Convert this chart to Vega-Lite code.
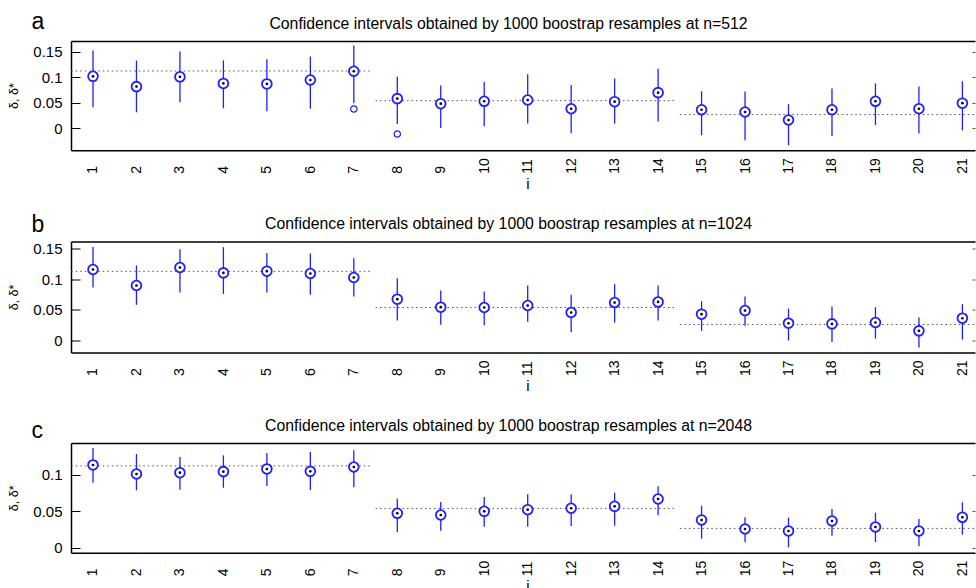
{
  "$schema": "https://vega.github.io/schema/vega-lite/v6.json",
  "background": "white",
  "padding": {"left": 7, "top": 10, "right": 0, "bottom": 0},
  "bounds": "flush",
  "spacing": 90.5,
  "config": {
    "view": {"stroke": null},
    "font": "Liberation Sans",
    "axis": {"grid": false, "labelFont": "Liberation Sans", "titleFont": "Liberation Sans", "labelColor": "black", "titleColor": "black", "tickColor": "black", "domainColor": "black", "titleFontWeight": "normal"}
  },
  "datasets": {
    "ci": [
      {"p": "a", "i": 1, "est": 0.102, "lo": 0.041, "hi": 0.153},
      {"p": "a", "i": 2, "est": 0.0817, "lo": 0.031, "hi": 0.133},
      {"p": "a", "i": 3, "est": 0.101, "lo": 0.0507, "hi": 0.151},
      {"p": "a", "i": 4, "est": 0.088, "lo": 0.039, "hi": 0.1336},
      {"p": "a", "i": 5, "est": 0.087, "lo": 0.033, "hi": 0.1356},
      {"p": "a", "i": 6, "est": 0.0948, "lo": 0.038, "hi": 0.141},
      {"p": "a", "i": 7, "est": 0.112, "lo": 0.049, "hi": 0.1626},
      {"p": "a", "i": 8, "est": 0.058, "lo": 0.008, "hi": 0.101},
      {"p": "a", "i": 9, "est": 0.048, "lo": 0.0, "hi": 0.0837},
      {"p": "a", "i": 10, "est": 0.0527, "lo": 0.0034, "hi": 0.0908},
      {"p": "a", "i": 11, "est": 0.0553, "lo": 0.0087, "hi": 0.106},
      {"p": "a", "i": 12, "est": 0.038, "lo": -0.0105, "hi": 0.085},
      {"p": "a", "i": 13, "est": 0.052, "lo": 0.0087, "hi": 0.098},
      {"p": "a", "i": 14, "est": 0.0698, "lo": 0.013, "hi": 0.117},
      {"p": "a", "i": 15, "est": 0.036, "lo": -0.0144, "hi": 0.0724},
      {"p": "a", "i": 16, "est": 0.0316, "lo": -0.024, "hi": 0.0718},
      {"p": "a", "i": 17, "est": 0.0158, "lo": -0.034, "hi": 0.047},
      {"p": "a", "i": 18, "est": 0.036, "lo": -0.0158, "hi": 0.0778},
      {"p": "a", "i": 19, "est": 0.0527, "lo": 0.006, "hi": 0.088},
      {"p": "a", "i": 20, "est": 0.038, "lo": -0.011, "hi": 0.0817},
      {"p": "a", "i": 21, "est": 0.049, "lo": -0.0045, "hi": 0.092},
      {"p": "b", "i": 1, "est": 0.1155, "lo": 0.0864, "hi": 0.1517},
      {"p": "b", "i": 2, "est": 0.0896, "lo": 0.0583, "hi": 0.122},
      {"p": "b", "i": 3, "est": 0.1188, "lo": 0.0783, "hi": 0.1484},
      {"p": "b", "i": 4, "est": 0.110, "lo": 0.076, "hi": 0.1517},
      {"p": "b", "i": 5, "est": 0.1128, "lo": 0.0783, "hi": 0.142},
      {"p": "b", "i": 6, "est": 0.109, "lo": 0.0745, "hi": 0.1414},
      {"p": "b", "i": 7, "est": 0.1026, "lo": 0.0718, "hi": 0.1339},
      {"p": "b", "i": 8, "est": 0.0675, "lo": 0.033, "hi": 0.1015},
      {"p": "b", "i": 9, "est": 0.0545, "lo": 0.026, "hi": 0.0815},
      {"p": "b", "i": 10, "est": 0.054, "lo": 0.0254, "hi": 0.080},
      {"p": "b", "i": 11, "est": 0.0573, "lo": 0.0308, "hi": 0.0896},
      {"p": "b", "i": 12, "est": 0.046, "lo": 0.014, "hi": 0.0745},
      {"p": "b", "i": 13, "est": 0.062, "lo": 0.0298, "hi": 0.0918},
      {"p": "b", "i": 14, "est": 0.063, "lo": 0.033, "hi": 0.0896},
      {"p": "b", "i": 15, "est": 0.0432, "lo": 0.0162, "hi": 0.0642},
      {"p": "b", "i": 16, "est": 0.049, "lo": 0.0243, "hi": 0.0718},
      {"p": "b", "i": 17, "est": 0.0286, "lo": 0.0006, "hi": 0.0524},
      {"p": "b", "i": 18, "est": 0.0275, "lo": -0.002, "hi": 0.0556},
      {"p": "b", "i": 19, "est": 0.0297, "lo": 0.0038, "hi": 0.0545},
      {"p": "b", "i": 20, "est": 0.0162, "lo": -0.0107, "hi": 0.0378},
      {"p": "b", "i": 21, "est": 0.0367, "lo": 0.0022, "hi": 0.0594},
      {"p": "c", "i": 1, "est": 0.1138, "lo": 0.0894, "hi": 0.137},
      {"p": "c", "i": 2, "est": 0.1014, "lo": 0.079, "hi": 0.1289},
      {"p": "c", "i": 3, "est": 0.1032, "lo": 0.0798, "hi": 0.1248},
      {"p": "c", "i": 4, "est": 0.1046, "lo": 0.0825, "hi": 0.127},
      {"p": "c", "i": 5, "est": 0.1083, "lo": 0.0849, "hi": 0.1303},
      {"p": "c", "i": 6, "est": 0.105, "lo": 0.0794, "hi": 0.1316},
      {"p": "c", "i": 7, "est": 0.111, "lo": 0.083, "hi": 0.134},
      {"p": "c", "i": 8, "est": 0.0473, "lo": 0.0211, "hi": 0.0674},
      {"p": "c", "i": 9, "est": 0.045, "lo": 0.0234, "hi": 0.0629},
      {"p": "c", "i": 10, "est": 0.050, "lo": 0.0289, "hi": 0.0697},
      {"p": "c", "i": 11, "est": 0.0523, "lo": 0.0289, "hi": 0.0734},
      {"p": "c", "i": 12, "est": 0.0542, "lo": 0.0298, "hi": 0.0734},
      {"p": "c", "i": 13, "est": 0.0569, "lo": 0.0303, "hi": 0.0757},
      {"p": "c", "i": 14, "est": 0.067, "lo": 0.0445, "hi": 0.0845},
      {"p": "c", "i": 15, "est": 0.0381, "lo": 0.0124, "hi": 0.0578},
      {"p": "c", "i": 16, "est": 0.0257, "lo": 0.0074, "hi": 0.0418},
      {"p": "c", "i": 17, "est": 0.0229, "lo": 0.0005, "hi": 0.0413},
      {"p": "c", "i": 18, "est": 0.0367, "lo": 0.0165, "hi": 0.0532},
      {"p": "c", "i": 19, "est": 0.0285, "lo": 0.0078, "hi": 0.0481},
      {"p": "c", "i": 20, "est": 0.0229, "lo": 0.0019, "hi": 0.0394},
      {"p": "c", "i": 21, "est": 0.0418, "lo": 0.0179, "hi": 0.0624}
    ],
    "ref": [
      {"p": "a", "x0": 0.5, "x1": 7.4, "v": 0.1125},
      {"p": "a", "x0": 7.5, "x1": 14.4, "v": 0.054},
      {"p": "a", "x0": 14.5, "x1": 21.4, "v": 0.0265},
      {"p": "b", "x0": 0.5, "x1": 7.4, "v": 0.1125},
      {"p": "b", "x0": 7.5, "x1": 14.4, "v": 0.054},
      {"p": "b", "x0": 14.5, "x1": 21.4, "v": 0.0265},
      {"p": "c", "x0": 0.5, "x1": 7.4, "v": 0.1125},
      {"p": "c", "x0": 7.5, "x1": 14.4, "v": 0.054},
      {"p": "c", "x0": 14.5, "x1": 21.4, "v": 0.0265}
    ],
    "out": [
      {"p": "a", "i": 7, "v": 0.0375},
      {"p": "a", "i": 8, "v": -0.0118}
    ]
  },
  "vconcat": [
    {
      "width": 904, "height": 109.3,
      "layer": [
        {
          "data": {"name": "ref"}, "transform": [{"filter": "datum.p == 'a'"}],
          "mark": {"type": "rule", "strokeDash": [1.5, 3], "color": "#555555", "strokeWidth": 1, "clip": true},
          "encoding": {
            "x": {"field": "x0", "type": "quantitative", "scale": {"domain": [0.494, 21.29], "nice": false, "zero": false},
              "axis": {"orient": "top", "ticks": false, "labels": false, "domain": true, "domainWidth": 1.5, "title": "Confidence intervals obtained by 1000 boostrap resamples at n=512", "titleFontSize": 15.8, "titleX": 437, "titleY": -13, "titleAlign": "center", "titleBaseline": "alphabetic"}},
            "x2": {"field": "x1"},
            "y": {"field": "v", "type": "quantitative", "scale": {"domain": [-0.044, 0.1717], "nice": false, "zero": false},
              "axis": {"orient": "right", "values": [0, 0.05, 0.1, 0.15], "labels": false, "domain": false, "ticks": true, "tickSize": -3, "tickColor": "#555555", "minExtent": 0, "maxExtent": 0, "title": "a", "titleAngle": 0, "titleFontSize": 23, "titleX": -944, "titleY": -13, "titleAlign": "left", "titleBaseline": "alphabetic"}}
          }
        },
        {
          "data": {"name": "ci"}, "transform": [{"filter": "datum.p == 'a'"}],
          "mark": {"type": "rule", "color": "#1f1fff", "strokeWidth": 1.3},
          "encoding": {
            "x": {"field": "i", "type": "quantitative",
              "axis": {"orient": "bottom", "values": [1,2,3,4,5,6,7,8,9,10,11,12,13,14,15,16,17,18,19,20,21], "ticks": false, "domain": true, "domainWidth": 1.5, "labelAngle": -90, "labelAlign": "left", "labelBaseline": "middle", "labelPadding": 23, "labelFontSize": 14, "labelOverlap": false, "labelFlush": false, "title": "i", "titleFontSize": 15, "titleX": 456.5, "titleY": 38, "titleAlign": "center", "titleBaseline": "alphabetic"}},
            "y": {"field": "lo", "type": "quantitative",
              "axis": {"orient": "left", "values": [0, 0.05, 0.1, 0.15], "format": "~g", "tickSize": -9, "labelPadding": 18, "labelFontSize": 15, "domain": true, "domainWidth": 1.5, "title": "δ, δ*", "titleFontSize": 12.5, "titleAngle": -90, "titleX": -54, "titleY": 54.6, "titleAlign": "center", "titleBaseline": "alphabetic"}},
            "y2": {"field": "hi"}
          }
        },
        {
          "data": {"name": "out"}, "transform": [{"filter": "datum.p == 'a'"}],
          "mark": {"type": "point", "shape": "circle", "filled": false, "stroke": "#1f1fff", "strokeWidth": 1.2, "size": 40, "opacity": 1},
          "encoding": {"x": {"field": "i", "type": "quantitative", "axis": null}, "y": {"field": "v", "type": "quantitative", "axis": null}}
        },
        {
          "data": {"name": "ci"}, "transform": [{"filter": "datum.p == 'a'"}],
          "mark": {"type": "point", "shape": "circle", "filled": true, "fill": "white", "stroke": "#1f1fff", "strokeWidth": 1.8, "size": 95, "opacity": 1, "fillOpacity": 1},
          "encoding": {"x": {"field": "i", "type": "quantitative", "axis": null}, "y": {"field": "est", "type": "quantitative", "axis": null}}
        },
        {
          "data": {"name": "ci"}, "transform": [{"filter": "datum.p == 'a'"}],
          "mark": {"type": "point", "shape": "circle", "filled": true, "color": "black", "size": 7, "opacity": 1},
          "encoding": {"x": {"field": "i", "type": "quantitative", "axis": null}, "y": {"field": "est", "type": "quantitative", "axis": null}}
        }
      ]
    },
    {
      "width": 904, "height": 111,
      "layer": [
        {
          "data": {"name": "ref"}, "transform": [{"filter": "datum.p == 'b'"}],
          "mark": {"type": "rule", "strokeDash": [1.5, 3], "color": "#555555", "strokeWidth": 1, "clip": true},
          "encoding": {
            "x": {"field": "x0", "type": "quantitative", "scale": {"domain": [0.494, 21.29], "nice": false, "zero": false},
              "axis": {"orient": "top", "ticks": false, "labels": false, "domain": true, "domainWidth": 1.5, "title": "Confidence intervals obtained by 1000 boostrap resamples at n=1024", "titleFontSize": 15.8, "titleX": 437, "titleY": -13, "titleAlign": "center", "titleBaseline": "alphabetic"}},
            "x2": {"field": "x1"},
            "y": {"field": "v", "type": "quantitative", "scale": {"domain": [-0.0188, 0.1608], "nice": false, "zero": false},
              "axis": {"orient": "right", "values": [0, 0.05, 0.1, 0.15], "labels": false, "domain": false, "ticks": true, "tickSize": -3, "tickColor": "#555555", "minExtent": 0, "maxExtent": 0, "title": "b", "titleAngle": 0, "titleFontSize": 23, "titleX": -944, "titleY": -10, "titleAlign": "left", "titleBaseline": "alphabetic"}}
          }
        },
        {
          "data": {"name": "ci"}, "transform": [{"filter": "datum.p == 'b'"}],
          "mark": {"type": "rule", "color": "#1f1fff", "strokeWidth": 1.3},
          "encoding": {
            "x": {"field": "i", "type": "quantitative",
              "axis": {"orient": "bottom", "values": [1,2,3,4,5,6,7,8,9,10,11,12,13,14,15,16,17,18,19,20,21], "ticks": false, "domain": true, "domainWidth": 1.5, "labelAngle": -90, "labelAlign": "left", "labelBaseline": "middle", "labelPadding": 23, "labelFontSize": 14, "labelOverlap": false, "labelFlush": false, "title": "i", "titleFontSize": 15, "titleX": 456.5, "titleY": 38, "titleAlign": "center", "titleBaseline": "alphabetic"}},
            "y": {"field": "lo", "type": "quantitative",
              "axis": {"orient": "left", "values": [0, 0.05, 0.1, 0.15], "format": "~g", "tickSize": -9, "labelPadding": 18, "labelFontSize": 15, "domain": true, "domainWidth": 1.5, "title": "δ, δ*", "titleFontSize": 12.5, "titleAngle": -90, "titleX": -54, "titleY": 55.5, "titleAlign": "center", "titleBaseline": "alphabetic"}},
            "y2": {"field": "hi"}
          }
        },
        {
          "data": {"name": "ci"}, "transform": [{"filter": "datum.p == 'b'"}],
          "mark": {"type": "point", "shape": "circle", "filled": true, "fill": "white", "stroke": "#1f1fff", "strokeWidth": 1.8, "size": 95, "opacity": 1, "fillOpacity": 1},
          "encoding": {"x": {"field": "i", "type": "quantitative", "axis": null}, "y": {"field": "est", "type": "quantitative", "axis": null}}
        },
        {
          "data": {"name": "ci"}, "transform": [{"filter": "datum.p == 'b'"}],
          "mark": {"type": "point", "shape": "circle", "filled": true, "color": "black", "size": 7, "opacity": 1},
          "encoding": {"x": {"field": "i", "type": "quantitative", "axis": null}, "y": {"field": "est", "type": "quantitative", "axis": null}}
        }
      ]
    },
    {
      "width": 904, "height": 109.7,
      "layer": [
        {
          "data": {"name": "ref"}, "transform": [{"filter": "datum.p == 'c'"}],
          "mark": {"type": "rule", "strokeDash": [1.5, 3], "color": "#555555", "strokeWidth": 1, "clip": true},
          "encoding": {
            "x": {"field": "x0", "type": "quantitative", "scale": {"domain": [0.494, 21.29], "nice": false, "zero": false},
              "axis": {"orient": "top", "ticks": false, "labels": false, "domain": true, "domainWidth": 1.5, "title": "Confidence intervals obtained by 1000 boostrap resamples at n=2048", "titleFontSize": 15.8, "titleX": 437, "titleY": -13, "titleAlign": "center", "titleBaseline": "alphabetic"}},
            "x2": {"field": "x1"},
            "y": {"field": "v", "type": "quantitative", "scale": {"domain": [-0.0069, 0.144], "nice": false, "zero": false},
              "axis": {"orient": "right", "values": [0, 0.05, 0.1], "labels": false, "domain": false, "ticks": true, "tickSize": -3, "tickColor": "#555555", "minExtent": 0, "maxExtent": 0, "title": "c", "titleAngle": 0, "titleFontSize": 23, "titleX": -944, "titleY": -6, "titleAlign": "left", "titleBaseline": "alphabetic"}}
          }
        },
        {
          "data": {"name": "ci"}, "transform": [{"filter": "datum.p == 'c'"}],
          "mark": {"type": "rule", "color": "#1f1fff", "strokeWidth": 1.3},
          "encoding": {
            "x": {"field": "i", "type": "quantitative",
              "axis": {"orient": "bottom", "values": [1,2,3,4,5,6,7,8,9,10,11,12,13,14,15,16,17,18,19,20,21], "ticks": false, "domain": true, "domainWidth": 1.5, "labelAngle": -90, "labelAlign": "left", "labelBaseline": "middle", "labelPadding": 23, "labelFontSize": 14, "labelOverlap": false, "labelFlush": false, "title": "i", "titleFontSize": 15, "titleX": 456.5, "titleY": 38, "titleAlign": "center", "titleBaseline": "alphabetic"}},
            "y": {"field": "lo", "type": "quantitative",
              "axis": {"orient": "left", "values": [0, 0.05, 0.1], "format": "~g", "tickSize": -9, "labelPadding": 18, "labelFontSize": 15, "domain": true, "domainWidth": 1.5, "title": "δ, δ*", "titleFontSize": 12.5, "titleAngle": -90, "titleX": -54, "titleY": 54.8, "titleAlign": "center", "titleBaseline": "alphabetic"}},
            "y2": {"field": "hi"}
          }
        },
        {
          "data": {"name": "ci"}, "transform": [{"filter": "datum.p == 'c'"}],
          "mark": {"type": "point", "shape": "circle", "filled": true, "fill": "white", "stroke": "#1f1fff", "strokeWidth": 1.8, "size": 95, "opacity": 1, "fillOpacity": 1},
          "encoding": {"x": {"field": "i", "type": "quantitative", "axis": null}, "y": {"field": "est", "type": "quantitative", "axis": null}}
        },
        {
          "data": {"name": "ci"}, "transform": [{"filter": "datum.p == 'c'"}],
          "mark": {"type": "point", "shape": "circle", "filled": true, "color": "black", "size": 7, "opacity": 1},
          "encoding": {"x": {"field": "i", "type": "quantitative", "axis": null}, "y": {"field": "est", "type": "quantitative", "axis": null}}
        }
      ]
    }
  ]
}
